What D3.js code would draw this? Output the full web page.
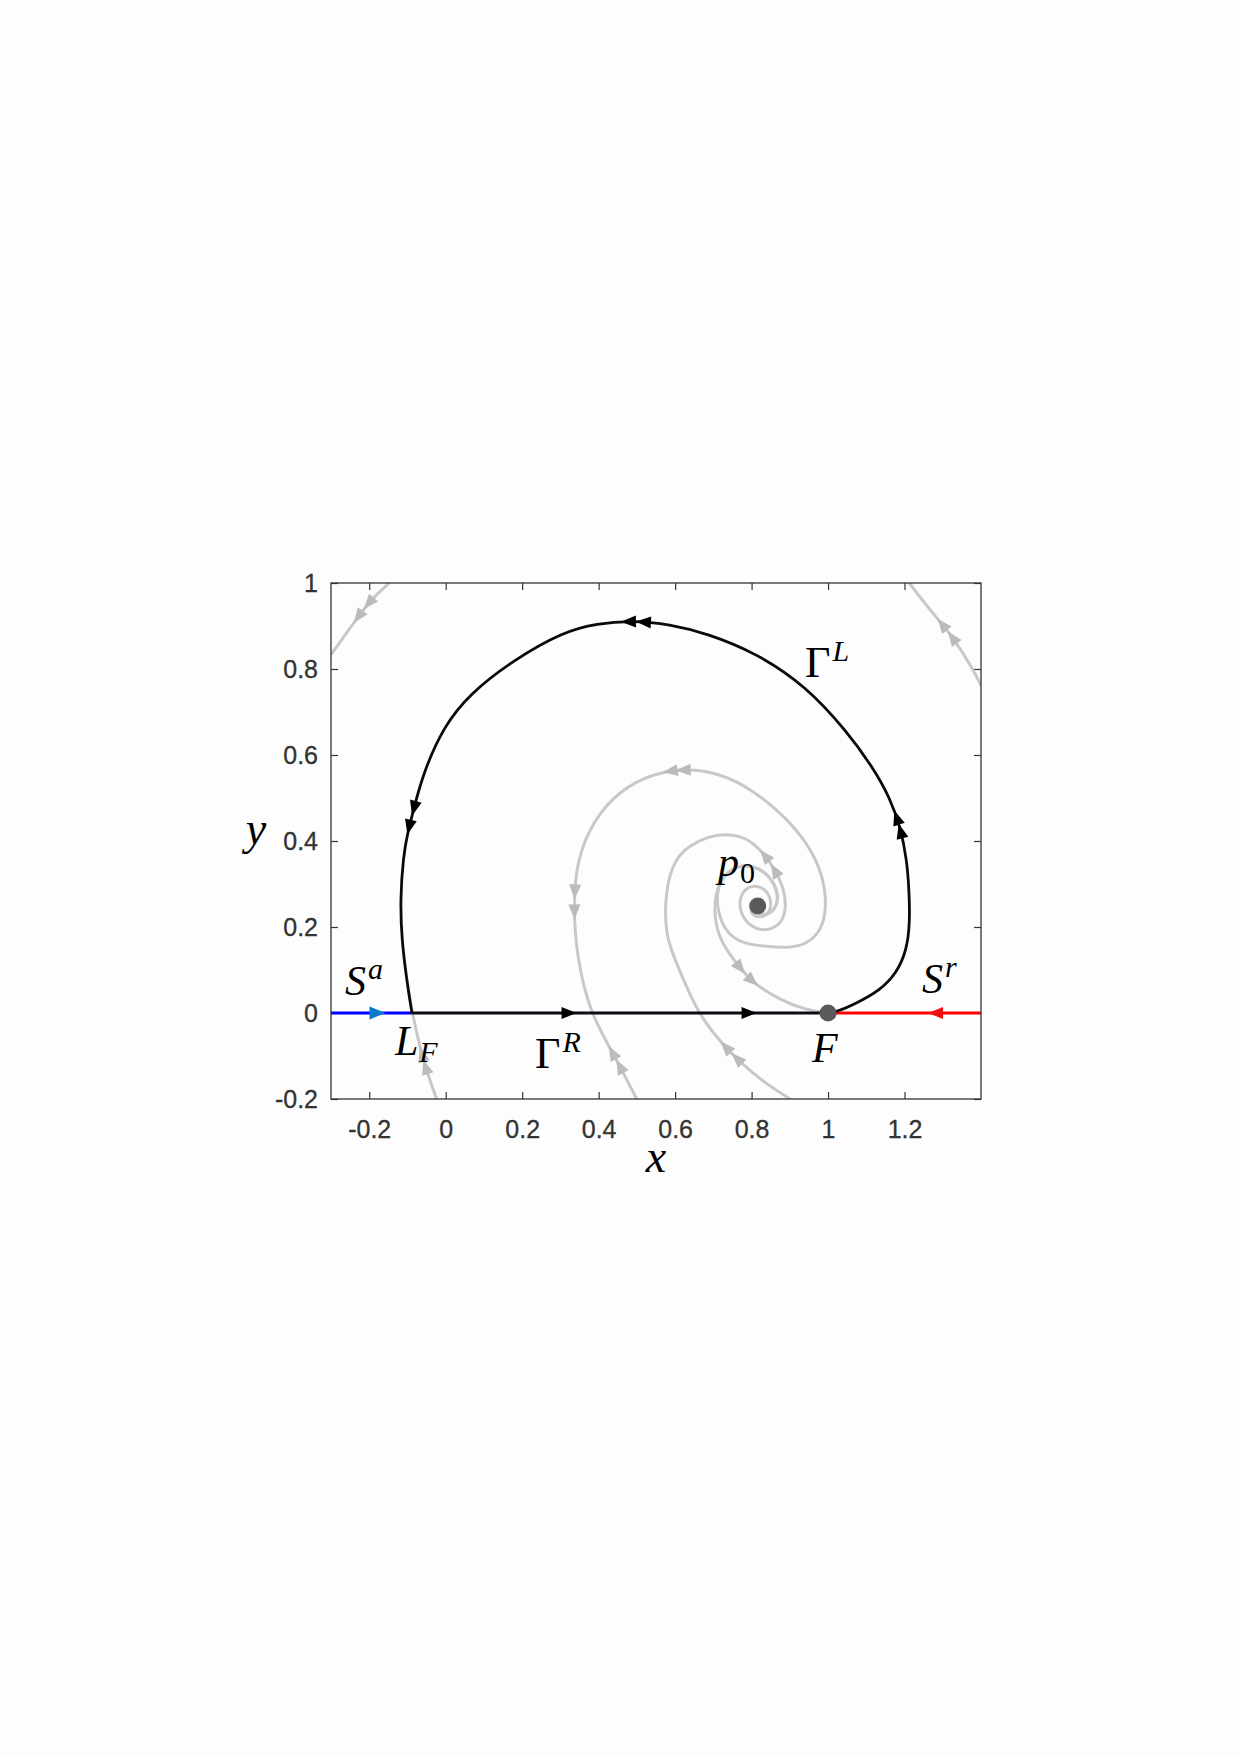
<!DOCTYPE html>
<html><head><meta charset="utf-8">
<script src="https://cdn.jsdelivr.net/npm/d3@7"></script>
<style>
html,body{margin:0;padding:0;background:#fdfdfd;}
svg{display:block;}
</style></head><body>
<svg id="chart" width="1240" height="1755"></svg>
<script>
// ---------------- data ----------------
const xDomain = [-0.3, 1.4];
const yDomain = [-0.2, 1];
const xTicks = [-0.2, 0, 0.2, 0.4, 0.6, 0.8, 1, 1.2];
const xTickLabels = ["-0.2", "0", "0.2", "0.4", "0.6", "0.8", "1", "1.2"];
const yTicks = [-0.2, 0, 0.2, 0.4, 0.6, 0.8, 1];
const yTickLabels = ["-0.2", "0", "0.2", "0.4", "0.6", "0.8", "1"];

// equilibria / special points
const pointF = [1, 0];
const pointP0 = [0.816, 0.249];
const xLF = -0.088;

// critical manifold pieces (y = 0)
const sAttracting = [[-0.3, 0], [xLF, 0]];
const sRepelling = [[1, 0], [1.4, 0]];
const gammaR = [[xLF, 0], [1, 0]];

// Gamma^L (from F back to L_F)
const gammaL = [
  [1.0, 0.0], [1.023, 0.003], [1.075, 0.023], [1.136, 0.053], [1.179, 0.092],
  [1.206, 0.147], [1.214, 0.209], [1.212, 0.286], [1.206, 0.356], [1.190, 0.430],
  [1.162, 0.500], [1.118, 0.570], [1.049, 0.655], [0.944, 0.759], [0.813, 0.837],
  [0.683, 0.883], [0.585, 0.904], [0.490, 0.913], [0.395, 0.906], [0.308, 0.887],
  [0.177, 0.821], [0.0635, 0.743], [-0.006, 0.666], [-0.059, 0.557], [-0.082, 0.480],
  [-0.100, 0.418], [-0.111, 0.364], [-0.119, 0.263], [-0.115, 0.170], [-0.102, 0.077],
  [-0.089, 0.003], [-0.088, 0.0]
];

// grey trajectories
const grey1 = [[-0.1475, 1.0], [-0.198, 0.960], [-0.250, 0.895], [-0.298, 0.836]];
const grey2 = [[1.3992, 0.7628], [1.380, 0.798], [1.327, 0.875], [1.2666, 0.937], [1.2125, 1.0]];
const grey3 = [[-0.0236, -0.2], [-0.0541, -0.125], [-0.0717, -0.063], [-0.0848, -0.009], [-0.093, 0.030], [-0.097, 0.05]];
const grey4 = [
  [0.8142, 0.2349], [0.8351, 0.2256], [0.8612, 0.2395], [0.8717, 0.2698], [0.8560, 0.3093],
  [0.8220, 0.3372], [0.7749, 0.3465], [0.7331, 0.3279], [0.7069, 0.2860], [0.7122, 0.2279],
  [0.7383, 0.1814], [0.7828, 0.1605], [0.8299, 0.1558], [0.8926, 0.1512], [0.9423, 0.1581],
  [0.9842, 0.1930], [0.9965, 0.2472], [0.9876, 0.3170], [0.9528, 0.3867], [0.8918, 0.4535],
  [0.8045, 0.5186], [0.7174, 0.5574], [0.6303, 0.5691], [0.5429, 0.5574], [0.4559, 0.5186],
  [0.3860, 0.4488], [0.3426, 0.3558], [0.3337, 0.2472], [0.3426, 0.1309], [0.3774, -0.0007],
  [0.4383, -0.0937], [0.4995, -0.2]
];
const grey5 = [
  [0.8011, 0.2442], [0.7958, 0.2319], [0.8220, 0.2202], [0.8482, 0.2319], [0.8526, 0.2628],
  [0.8351, 0.2900], [0.8045, 0.2977], [0.7783, 0.2860], [0.7653, 0.2551], [0.7783, 0.2163],
  [0.8134, 0.1930], [0.8482, 0.1930], [0.8788, 0.2086], [0.8918, 0.2472], [0.8830, 0.2937],
  [0.8612, 0.3326], [0.8351, 0.3674], [0.8011, 0.3977], [0.7697, 0.4116], [0.7305, 0.4163],
  [0.6912, 0.4116], [0.6389, 0.3907], [0.6023, 0.3605], [0.5814, 0.3093], [0.5735, 0.2472],
  [0.5762, 0.1814], [0.5997, 0.1233], [0.6337, 0.0535], [0.6651, -0.0070], [0.7349, -0.0860],
  [0.8220, -0.1558], [0.9005, -0.2]
];
const grey6 = [
  [0.8142, 0.2349], [0.8351, 0.2256], [0.8612, 0.2395], [0.8717, 0.2698], [0.8560, 0.3093],
  [0.8220, 0.3372], [0.7749, 0.3465], [0.7331, 0.3279], [0.7069, 0.2860], [0.7017, 0.2349],
  [0.7122, 0.1814], [0.7383, 0.1419], [0.7697, 0.1047], [0.8037, 0.0698], [0.8743, 0.0302],
  [0.9423, 0.0070], [1.0, 0.0]
];

// arrow locations [x, y, direction along the curve (+1 forward / -1 backward)]
const grey1Arrows = [[-0.2023, 0.9528, 1], [-0.2285, 0.9216, 1]];
const grey2Arrows = [[1.2972, 0.9023, 1], [1.3276, 0.8751, 1]];
const grey3Arrows = [[-0.0672, -0.0977, 1], [-0.0497, -0.1249, 1]];
const grey4Arrows = [[0.5866, 0.5667, 1], [0.6214, 0.5667, 1], [0.3337, 0.2821, 1], [0.3337, 0.2356, 1], [0.4376, -0.0907, -1], [0.4559, -0.1233, -1]];
const grey5Arrows = [[0.8307, 0.3635, 1], [0.8612, 0.3326, 1], [0.7331, -0.0791, -1], [0.7619, -0.1047, -1]];
const grey6Arrows = [[0.7697, 0.1040, 1], [0.8003, 0.0728, 1]];
const gammaLArrows = [[1.175, 0.453, 1], [1.184, 0.422, 1], [0.478, 0.912, 1], [0.517, 0.912, 1], [-0.085, 0.476, 1], [-0.098, 0.433, 1]];
const gammaRArrows = [[0.322, 0, 1], [0.793, 0, 1]];
const sAArrows = [[-0.178, 0, 1]];
const sRArrows = [[1.281, 0, -1]];

// math labels (anchor = left end of the baseline, in data units)
const mathLabels = [
  { base: "Γ", baseItalic: false, sup: "L", x: 0.9397, y: 0.7814 },
  { base: "S", baseItalic: true, sup: "a", x: -0.2634, y: 0.0419 },
  { base: "L", baseItalic: true, sub: "F", subItalic: true, x: -0.1326, y: -0.0977 },
  { base: "Γ", baseItalic: false, sup: "R", x: 0.2335, y: -0.1279 },
  { base: "p", baseItalic: true, sub: "0", subItalic: false, x: 0.7122, y: 0.3186 },
  { base: "F", baseItalic: true, x: 0.958, y: -0.114 },
  { base: "S", baseItalic: true, sup: "r", x: 1.2457, y: 0.0465 }
];
const xAxisLabel = "x";
const yAxisLabel = "y";

// ---------------- drawing ----------------
const svg = d3.select("#chart");
const x = d3.scaleLinear().domain(xDomain).range([331, 981]);
const y = d3.scaleLinear().domain(yDomain).range([1099, 583]);

const axisColor = "#333333";
const tickFont = "'Liberation Sans', Arial, Helvetica, sans-serif";
const mathFont = "'Liberation Serif', 'Times New Roman', serif";

svg.append("defs").append("clipPath").attr("id", "plotClip")
  .append("rect")
  .attr("x", x(xDomain[0])).attr("y", y(yDomain[1]))
  .attr("width", x(xDomain[1]) - x(xDomain[0]))
  .attr("height", y(yDomain[0]) - y(yDomain[1]));

svg.append("rect")
  .attr("x", x(xDomain[0])).attr("y", y(yDomain[1]))
  .attr("width", x(xDomain[1]) - x(xDomain[0]))
  .attr("height", y(yDomain[0]) - y(yDomain[1]))
  .attr("fill", "#fdfdfd");

// axes
function styleAxis(g) {
  g.select(".domain").remove();
  g.selectAll(".tick line").attr("stroke", axisColor).attr("stroke-width", 1.2);
  g.selectAll(".tick text").attr("fill", axisColor)
    .attr("font-family", tickFont).attr("font-size", 25)
    .attr("stroke", axisColor).attr("stroke-width", 0.3);
}
svg.append("g").attr("transform", `translate(0,${y(yDomain[0])})`)
  .call(d3.axisBottom(x).tickValues(xTicks).tickFormat((d, i) => xTickLabels[i])
    .tickSizeInner(-7).tickSizeOuter(0).tickPadding(21))
  .call(styleAxis);
svg.append("g").attr("transform", `translate(${x(xDomain[0])},0)`)
  .call(d3.axisLeft(y).tickValues(yTicks).tickFormat((d, i) => yTickLabels[i])
    .tickSizeInner(-7).tickSizeOuter(0).tickPadding(13))
  .call(styleAxis);
svg.append("g").attr("transform", `translate(0,${y(yDomain[1])})`)
  .call(d3.axisTop(x).tickValues(xTicks).tickFormat("").tickSizeInner(-7).tickSizeOuter(0))
  .call(styleAxis);
svg.append("g").attr("transform", `translate(${x(xDomain[1])},0)`)
  .call(d3.axisRight(y).tickValues(yTicks).tickFormat("").tickSizeInner(-7).tickSizeOuter(0))
  .call(styleAxis);

const smooth = d3.line().x(d => x(d[0])).y(d => y(d[1])).curve(d3.curveBasis);
const straight = d3.line().x(d => x(d[0])).y(d => y(d[1]));

const greyLayer = svg.append("g").attr("clip-path", "url(#plotClip)");
const greyArrowLayer = svg.append("g").attr("clip-path", "url(#plotClip)");
const mainLayer = svg.append("g");
const arrowLayer = svg.append("g");

function arrowsOn(pathSel, list, color, len, wid, layer) {
  const node = pathSel.node();
  const L = node.getTotalLength();
  const samples = [];
  for (let s = 0; s <= L; s += 0.5) {
    const p = node.getPointAtLength(s);
    samples.push({ s: s, x: p.x, y: p.y });
  }
  list.forEach(a => {
    const tx = x(a[0]), ty = y(a[1]);
    let best = samples[0], bd = Infinity;
    samples.forEach(p => {
      const d = (p.x - tx) * (p.x - tx) + (p.y - ty) * (p.y - ty);
      if (d < bd) { bd = d; best = p; }
    });
    const p1 = node.getPointAtLength(Math.max(0, best.s - 3));
    const p2 = node.getPointAtLength(Math.min(L, best.s + 3));
    let ang = Math.atan2(p2.y - p1.y, p2.x - p1.x) * 180 / Math.PI;
    if (a[2] < 0) ang += 180;
    layer.append("path")
      .attr("d", `M${len / 2},0L${-len / 2},${-wid / 2}L${-len / 2},${wid / 2}Z`)
      .attr("transform", `translate(${best.x},${best.y}) rotate(${ang})`)
      .attr("fill", color);
  });
}

const greyColor = "#c8c8c8";
const greyArrowColor = "#bbbbbb";
[[grey1, grey1Arrows], [grey2, grey2Arrows], [grey3, grey3Arrows],
 [grey4, grey4Arrows], [grey5, grey5Arrows], [grey6, grey6Arrows]].forEach(([pts, arr]) => {
  const p = greyLayer.append("path").datum(pts).attr("d", smooth)
    .attr("fill", "none").attr("stroke", greyColor).attr("stroke-width", 3)
    .attr("stroke-linecap", "round").attr("stroke-linejoin", "round");
  arrowsOn(p, arr, greyArrowColor, 15, 12, greyArrowLayer);
});

// critical manifold
const sA = mainLayer.append("path").datum(sAttracting).attr("d", straight)
  .attr("fill", "none").attr("stroke", "#0000ff").attr("stroke-width", 3);
const sR = mainLayer.append("path").datum(sRepelling).attr("d", straight)
  .attr("fill", "none").attr("stroke", "#ff0000").attr("stroke-width", 3);
const gR = mainLayer.append("path").datum(gammaR).attr("d", straight)
  .attr("fill", "none").attr("stroke", "#0c0c14").attr("stroke-width", 3);
const gL = mainLayer.append("path").datum(gammaL).attr("d", smooth)
  .attr("fill", "none").attr("stroke", "#0a0a0a").attr("stroke-width", 2.8)
  .attr("stroke-linejoin", "round");

arrowsOn(sA, sAArrows, "#0a78c8", 16, 13, arrowLayer);
arrowsOn(sR, sRArrows, "#ee1010", 15, 12, arrowLayer);
arrowsOn(gR, gammaRArrows, "#000000", 15, 12, arrowLayer);
arrowsOn(gL, gammaLArrows, "#000000", 15, 12, arrowLayer);

// equilibria
[pointP0, pointF].forEach(p => {
  svg.append("circle").attr("cx", x(p[0])).attr("cy", y(p[1])).attr("r", 8.5).attr("fill", "#5a5a5a");
});

// frame
svg.append("rect")
  .attr("x", x(xDomain[0])).attr("y", y(yDomain[1]))
  .attr("width", x(xDomain[1]) - x(xDomain[0]))
  .attr("height", y(yDomain[0]) - y(yDomain[1]))
  .attr("fill", "none").attr("stroke", axisColor).attr("stroke-width", 1.3);

// math labels
const labelLayer = svg.append("g").attr("font-family", mathFont).attr("fill", "#000");
mathLabels.forEach(m => {
  const t = labelLayer.append("text").attr("x", x(m.x)).attr("y", y(m.y));
  t.append("tspan").text(m.base)
    .attr("font-size", m.base === "Γ" ? 44 : 42)
    .attr("font-style", m.baseItalic ? "italic" : "normal");
  if (m.sup) {
    t.append("tspan").text(m.sup).attr("font-size", 30).attr("font-style", "italic")
      .attr("dx", 2).attr("dy", -16);
  }
  if (m.sub) {
    t.append("tspan").text(m.sub).attr("font-size", 30)
      .attr("font-style", m.subItalic ? "italic" : "normal")
      .attr("dx", 1).attr("dy", 7);
  }
});

// axis labels
svg.append("text").text(xAxisLabel)
  .attr("x", (x(xDomain[0]) + x(xDomain[1])) / 2).attr("y", 1172)
  .attr("text-anchor", "middle").attr("font-family", mathFont)
  .attr("font-style", "italic").attr("font-size", 46).attr("fill", "#000");
svg.append("text").text(yAxisLabel)
  .attr("x", 256).attr("y", 844)
  .attr("text-anchor", "middle").attr("font-family", mathFont)
  .attr("font-style", "italic").attr("font-size", 46).attr("fill", "#000");
</script>
</body></html>
